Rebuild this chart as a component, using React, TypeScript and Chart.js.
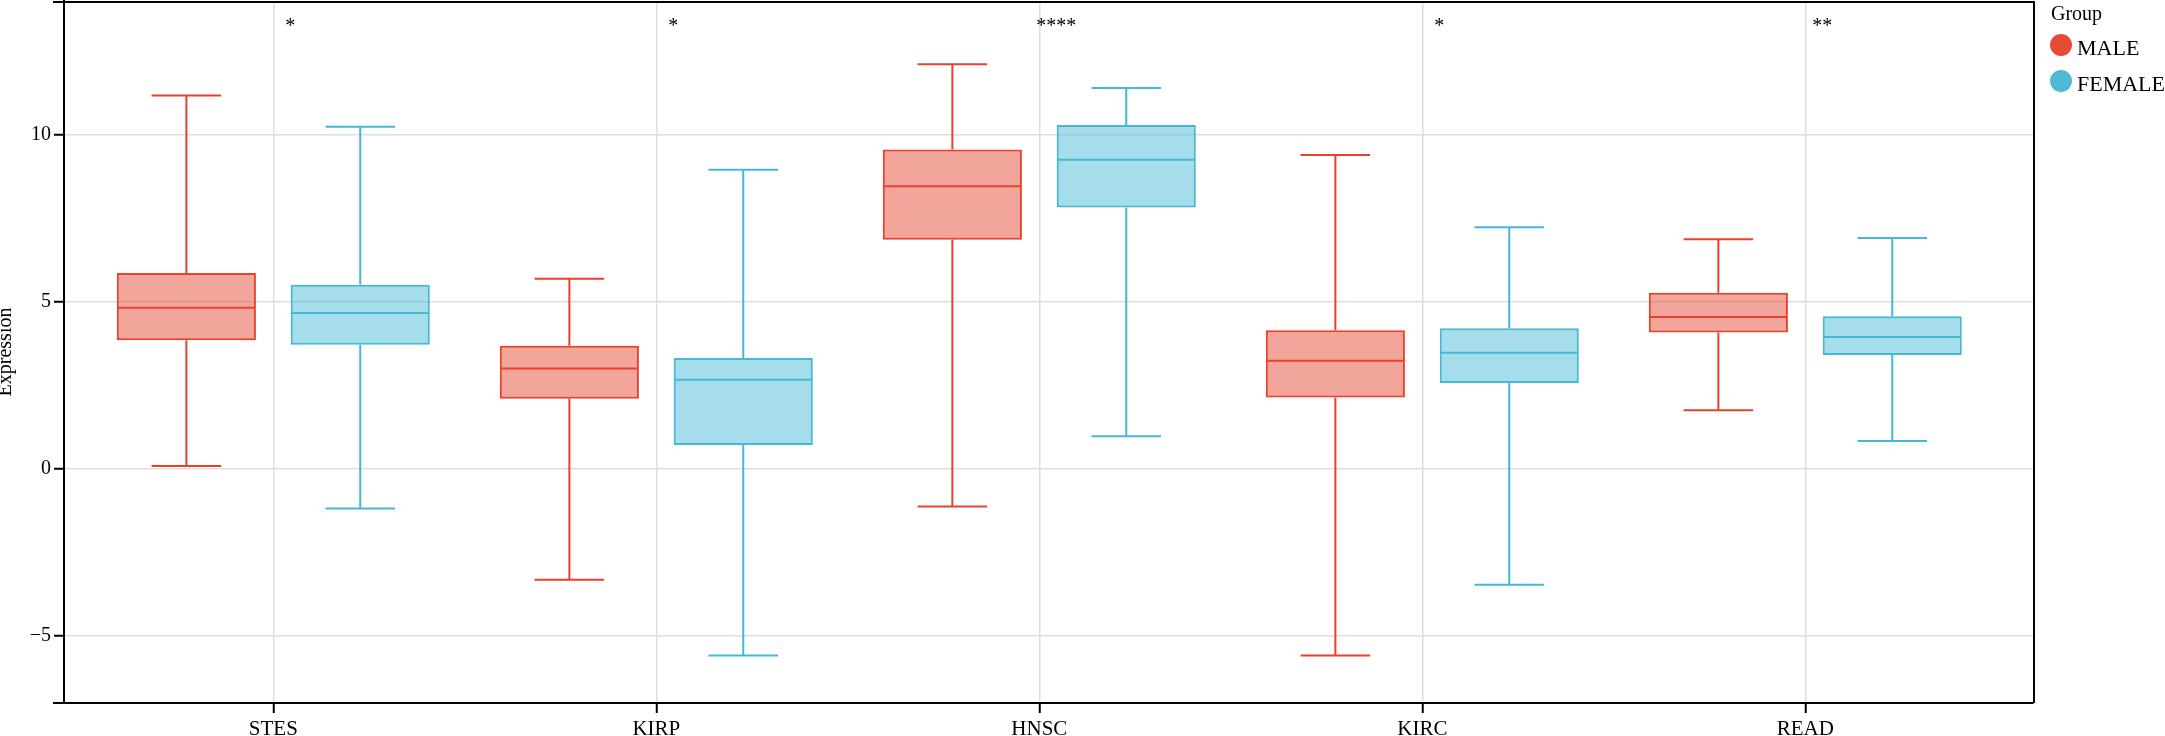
import React, { useEffect, useRef } from 'react';
import { Chart, registerables } from 'chart.js';

Chart.register(...registerables);

// Box plot summaries
const categories = ['STES', 'KIRP', 'HNSC', 'KIRC', 'READ'];
const significance = ['*', '*', '****', '*', '**'];

const maleMin = [0.09, -3.31, -1.12, -5.58, 1.76];
const maleQ1 = [3.85, 2.1, 6.86, 2.14, 4.08];
const maleMedian = [4.82, 3.01, 8.46, 3.24, 4.55];
const maleQ3 = [5.86, 3.69, 9.56, 4.15, 5.27];
const maleMax = [11.17, 5.69, 12.11, 9.39, 6.87];

const femaleMin = [-1.18, -5.58, 0.98, -3.46, 0.84];
const femaleQ1 = [3.72, 0.72, 7.82, 2.57, 3.41];
const femaleMedian = [4.67, 2.67, 9.25, 3.48, 3.95];
const femaleQ3 = [5.51, 3.32, 10.29, 4.21, 4.57];
const femaleMax = [10.24, 8.95, 11.4, 7.23, 6.91];

const yTicks = [-5, 0, 5, 10];

const FONT = "'Liberation Serif', 'Times New Roman', serif";

const groups = [
  {
    label: 'MALE',
    min: maleMin, q1: maleQ1, median: maleMedian, q3: maleQ3, max: maleMax,
    line: '#EB402C', fill: 'rgba(230, 75, 53, 0.5)', dot: '#E64B35',
  },
  {
    label: 'FEMALE',
    min: femaleMin, q1: femaleQ1, median: femaleMedian, q3: femaleQ3, max: femaleMax,
    line: '#45B8D5', fill: 'rgba(77, 187, 213, 0.5)', dot: '#4DBBD5',
  },
];

// medians + whiskers on top of the floating bars
const boxExtras = {
  id: 'boxExtras',
  afterDatasetsDraw(chart: any) {
    const { ctx } = chart;
    const y = chart.scales.y;
    groups.forEach((g, di) => {
      const meta = chart.getDatasetMeta(di);
      meta.data.forEach((bar: any, i: number) => {
        const { x, width } = bar.getProps(['x', 'width'], true);
        const half = width / 2;
        const cap = width / 4;
        ctx.save();
        ctx.strokeStyle = g.line;
        ctx.lineWidth = 2;
        ctx.beginPath();
        // median
        ctx.moveTo(x - half + 1, y.getPixelForValue(g.median[i]));
        ctx.lineTo(x + half - 1, y.getPixelForValue(g.median[i]));
        // upper whisker
        ctx.moveTo(x, y.getPixelForValue(g.q3[i]));
        ctx.lineTo(x, y.getPixelForValue(g.max[i]));
        ctx.moveTo(x - cap, y.getPixelForValue(g.max[i]));
        ctx.lineTo(x + cap, y.getPixelForValue(g.max[i]));
        // lower whisker
        ctx.moveTo(x, y.getPixelForValue(g.q1[i]));
        ctx.lineTo(x, y.getPixelForValue(g.min[i]));
        ctx.moveTo(x - cap, y.getPixelForValue(g.min[i]));
        ctx.lineTo(x + cap, y.getPixelForValue(g.min[i]));
        ctx.stroke();
        ctx.restore();
      });
    });
  },
};

const frameAndLabels = {
  id: 'frameAndLabels',
  afterDraw(chart: any) {
    const { ctx, chartArea } = chart;
    const { left, right, top, bottom } = chartArea;
    const x = chart.scales.x;
    ctx.save();
    ctx.strokeStyle = '#000';
    ctx.lineWidth = 2;
    ctx.beginPath();
    ctx.moveTo(left - 11, top + 1);
    ctx.lineTo(right + 1, top + 1);
    ctx.lineTo(right + 1, bottom);
    ctx.moveTo(left - 11, bottom);
    ctx.lineTo(left, bottom);
    ctx.stroke();

    // significance marks
    ctx.fillStyle = '#000';
    ctx.font = `20px ${FONT}`;
    ctx.textAlign = 'center';
    ctx.textBaseline = 'alphabetic';
    significance.forEach((s, i) => {
      ctx.fillText(s, x.getPixelForValue(i + 1) + 17, top + 31);
    });

    // legend
    const lx = right + 18;
    ctx.textAlign = 'left';
    ctx.font = `20px ${FONT}`;
    ctx.fillText('Group', lx, 20);
    ctx.font = `22px ${FONT}`;
    groups.forEach((g, i) => {
      const cy = 45 + i * 36;
      ctx.fillStyle = g.dot;
      ctx.beginPath();
      ctx.arc(lx + 10, cy, 11, 0, Math.PI * 2);
      ctx.fill();
      ctx.fillStyle = '#000';
      ctx.fillText(g.label, lx + 26, cy + 10);
    });
    ctx.restore();
  },
};

const BoxChart = () => {
  const chartRef = useRef<HTMLCanvasElement>(null);

  useEffect(() => {
    if (!chartRef.current) return;
    const ctx = chartRef.current.getContext('2d');
    if (!ctx) return;

    Chart.defaults.font.family = FONT;
    Chart.defaults.color = '#000';

    const chart = new Chart(ctx, {
      type: 'bar',
      data: {
        datasets: groups.map((g) => ({
          label: g.label,
          data: categories.map((_, i) => ({ x: i + 1, y: [g.q1[i], g.q3[i]] })),
          backgroundColor: g.fill,
          borderColor: g.line,
          borderWidth: 2,
          borderSkipped: false,
          categoryPercentage: 0.908,
          barPercentage: 0.8,
        })),
      } as any,
      options: {
        animation: false,
        responsive: true,
        maintainAspectRatio: false,
        layout: { padding: { top: 1, right: 132, left: 0, bottom: 0 } },
        plugins: {
          legend: { display: false },
          tooltip: { enabled: false },
        },
        scales: {
          x: {
            type: 'linear',
            offset: false,
            min: 0.4535,
            max: 5.5945,
            afterBuildTicks: (s: any) => {
              s.ticks = categories.map((_, i) => ({ value: i + 1 }));
            },
            afterFit: (s: any) => {
              s.height = 33;
              s.paddingLeft = 0;
              s.paddingRight = 0;
            },
            ticks: {
              callback: (v: any) => categories[Math.round(v) - 1] ?? '',
              font: { size: 21 },
              padding: 4,
              maxRotation: 0,
              autoSkip: false,
            },
            grid: {
              offset: false,
              color: '#DEDEDE',
              lineWidth: 1.5,
              tickColor: '#000',
              tickLength: 10,
              tickWidth: 2,
            },
            border: { color: '#000', width: 2 },
          },
          y: {
            min: -7,
            max: 14,
            afterBuildTicks: (s: any) => {
              s.ticks = yTicks.map((v) => ({ value: v }));
            },
            afterFit: (s: any) => {
              s.width = 64;
              s.paddingTop = 0;
              s.paddingBottom = 0;
            },
            ticks: {
              callback: (v: any) => (v < 0 ? '\u2212' + Math.abs(v) : String(v)),
              font: { size: 20 },
              padding: 3,
            },
            grid: {
              color: '#DEDEDE',
              lineWidth: 1.5,
              tickColor: '#000',
              tickLength: 10,
              tickWidth: 2,
            },
            border: { color: '#000', width: 2 },
            title: {
              display: true,
              text: 'Expression',
              font: { size: 20, lineHeight: 0.6 },
              padding: 0,
            },
          },
        },
      } as any,
      plugins: [boxExtras, frameAndLabels],
    });

    return () => {
      chart.destroy();
    };
  }, []);

  return (
    <div style={{ position: 'absolute', left: 0, top: 0, width: '2165px', height: '736px', background: '#fff' }}>
      <canvas ref={chartRef} />
    </div>
  );
};

export default function App() {
  return <BoxChart />;
}
